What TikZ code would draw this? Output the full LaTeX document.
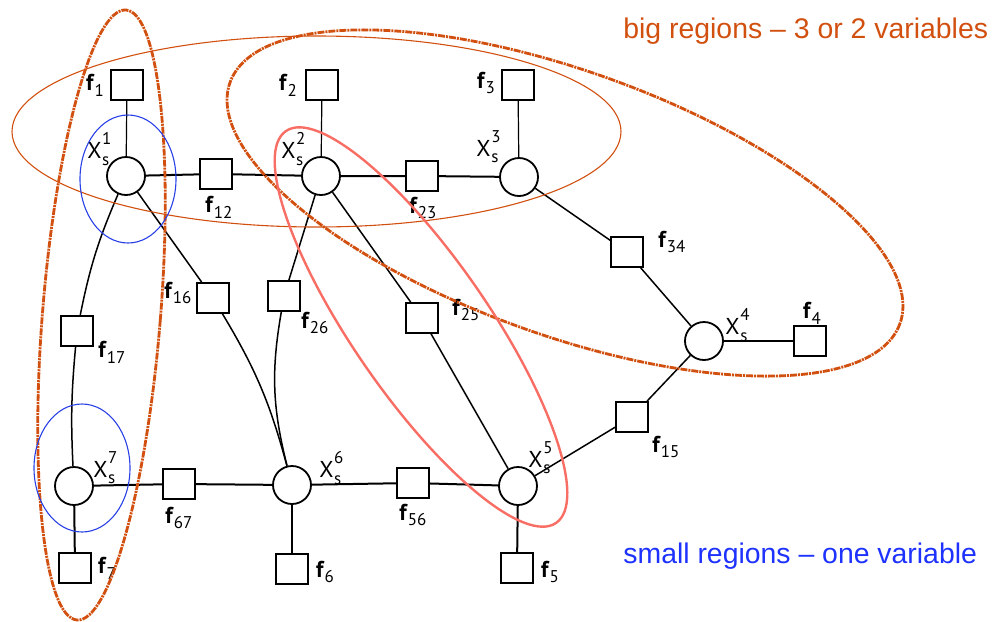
\documentclass[tikz,border=0pt]{standalone}
\usepackage{fontspec}
\setmainfont{PT Sans}
\newfontfamily\arialfont{Liberation Sans}
\definecolor{bigorange}{HTML}{D2500F}
\definecolor{regblue}{HTML}{2840E6}
\definecolor{txtblue}{HTML}{1E32FF}
\definecolor{salmon}{HTML}{F86E64}
\newcommand{\subsz}{\fontsize{8.5}{10}\selectfont}
\newcommand{\fl}[1]{\textbf{f}\raisebox{-0.5ex}{\subsz #1}}
\newcommand{\xl}[1]{X\kern0.3pt\rlap{\raisebox{1.15ex}{\subsz #1}}\raisebox{-0.6ex}{\subsz s}\phantom{\subsz s}}
\tikzset{
  var/.style={circle, draw, line width=0.9pt, minimum size=19pt, inner sep=0pt},
  fac/.style={rectangle, draw, line width=0.9pt, minimum width=16pt, minimum height=15pt, inner sep=0pt},
  lab/.style={font=\fontsize{11.5}{13}\selectfont, inner sep=0pt},
  thickedge/.style={line width=1pt},
  thinedge/.style={line width=0.6pt},
  midedge/.style={line width=0.75pt},
  bigreg/.style={draw=bigorange, line width=1.4pt, dash pattern=on 3.5pt off 0.5pt on 1pt off 0.5pt},
  thinreg/.style={draw=bigorange, line width=0.55pt},
  smallreg/.style={draw=regblue, line width=0.55pt},
  pairreg/.style={draw=salmon, line width=1.2pt}
}
\begin{document}
\begin{tikzpicture}[x=0.5pt,y=-0.5pt]
\useasboundingbox (0,0) rectangle (993,622);
% variable nodes
\node[var] (X1) at (126,176) {};
\node[var] (X2) at (321,176) {};
\node[var] (X3) at (519,177) {};
\node[var] (X4) at (704,341) {};
\node[var] (X5) at (518,486) {};
\node[var] (X6) at (292,485) {};
\node[var] (X7) at (74,486) {};
% factor nodes
\node[fac] (f1) at (127,85) {};
\node[fac] (f2) at (322,85) {};
\node[fac] (f3) at (518,85) {};
\node[fac] (f12) at (216,174) {};
\node[fac] (f23) at (422,176) {};
\node[fac] (f34) at (627,252) {};
\node[fac] (f4) at (810,341) {};
\node[fac] (f15) at (632,417) {};
\node[fac] (f5) at (517,568) {};
\node[fac] (f56) at (413,483) {};
\node[fac] (f6) at (292,569) {};
\node[fac] (f67) at (179,484) {};
\node[fac] (f7) at (75,568) {};
\node[fac] (f16) at (213,298) {};
\node[fac] (f26) at (284,296) {};
\node[fac] (f25) at (422,318) {};
\node[fac] (f17) at (77,331) {};
% edges
\draw[thinedge] (f1) -- (X1);
\draw[thinedge] (f2) -- (X2);
\draw[thinedge] (f3) -- (X3);
\draw[thinedge] (X4) -- (f4);
\draw[thickedge] (X1) -- (f12) -- (X2) -- (f23) -- (X3);
\draw[thickedge] (X7) -- (f67) -- (X6) -- (f56) -- (X5);
\draw[thickedge] (X7) -- (f7);
\draw[thickedge] (X6) -- (f6);
\draw[thickedge] (X5) -- (f5);
\draw[midedge] (X3) -- (f34) -- (X4);
\draw[midedge] (X4) -- (f15) -- (X5);
\draw[midedge] (X2) -- (f25) -- (X5);
\draw[midedge] (X1) -- (f16);
\draw[midedge] (f16) to[bend left=8] (X6);
\draw[midedge] (X2) -- (f26);
\draw[midedge] (f26) to[bend right=12] (X6);
\draw[midedge] (X1) to[bend right=6] (f17);
\draw[midedge] (f17) to[bend right=4] (X7);
% labels
\node[lab] (lf1) at (95,85) {\fl{1}};
\node[lab] (lf2) at (288,85) {\fl{2}};
\node[lab] (lf3) at (486,83) {\fl{3}};
\node[lab] (lf12) at (219,207) {\fl{12}};
\node[lab] (lf23) at (423,208) {\fl{23}};
\node[lab] (lf34) at (672,242) {\fl{34}};
\node[lab] (lf4) at (812,313) {\fl{4}};
\node[lab] (lf15) at (666,447) {\fl{15}};
\node[lab] (lf56) at (413,515) {\fl{56}};
\node[lab] (lf5) at (550,572) {\fl{5}};
\node[lab] (lf6) at (325,572) {\fl{6}};
\node[lab] (lf67) at (179,518) {\fl{67}};
\node[lab] (lf7) at (107,568) {\fl{7}};
\node[lab] (lf16) at (178,293) {\fl{16}};
\node[lab] (lf26) at (315,323) {\fl{26}};
\node[lab] (lf25) at (466,310) {\fl{25}};
\node[lab] (lf17) at (112,352) {\fl{17}};
\node[lab] (lX1) at (102,149) {\xl{1}};
\node[lab] (lX2) at (296,149) {\xl{2}};
\node[lab] (lX3) at (491,147) {\xl{3}};
\node[lab] (lX4) at (740,325) {\xl{4}};
\node[lab] (lX5) at (543,458) {\xl{5}};
\node[lab] (lX6) at (334,468) {\xl{6}};
\node[lab] (lX7) at (108,468) {\xl{7}};
% regions
\draw[thinreg] (316.5,131.5) ellipse [x radius=304.5, y radius=95.5];
\draw[bigreg, rotate around={-4.6:(101.5,315)}] (101.5,315) ellipse [x radius=59, y radius=306];
\draw[bigreg, rotate around={-19.8:(565,203)}] (565,203) ellipse [x radius=356, y radius=132];
\draw[pairreg, rotate around={-55.4:(421,327)}] (421,327) ellipse [x radius=238, y radius=68];
\draw[smallreg] (128,179) ellipse [x radius=48, y radius=64];
\draw[smallreg] (82,468) ellipse [x radius=48, y radius=64];
% captions
\node[font=\arialfont\fontsize{14.2}{17}\selectfont, text=bigorange, anchor=base west, inner sep=0pt] (bigcap) at (623,38) {big regions – 3 or 2 variables};
\node[font=\arialfont\fontsize{14.2}{17}\selectfont, text=txtblue, anchor=base west, inner sep=0pt] (smallcap) at (623,563) {small regions – one variable};
\end{tikzpicture}
\end{document}
